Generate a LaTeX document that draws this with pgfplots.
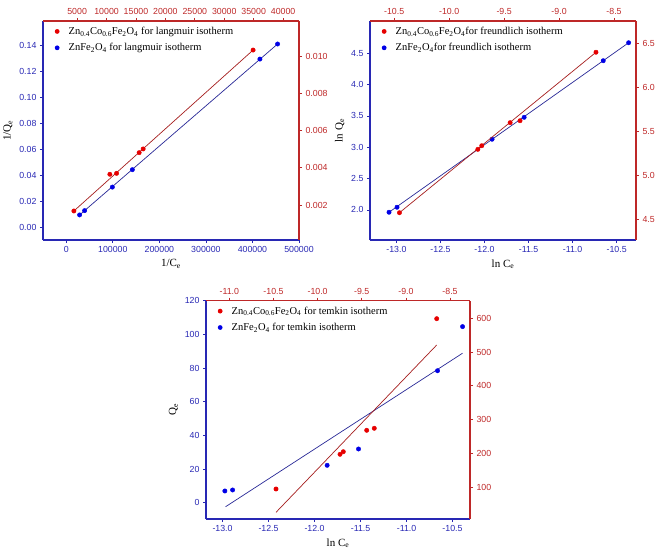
\documentclass[border=0pt]{standalone}
\usepackage{pgfplots}
\pgfplotsset{compat=1.18}
\usepackage{fontspec}
\setmainfont{Liberation Serif}
\newfontfamily\tickfont{Liberation Sans}
\definecolor{axblue}{RGB}{40,40,180}
\definecolor{axred}{RGB}{190,40,40}
\definecolor{ptblue}{RGB}{0,0,230}
\definecolor{ptred}{RGB}{230,0,0}
\definecolor{lnblue}{RGB}{40,40,150}
\definecolor{lnred}{RGB}{165,30,30}
\pgfplotsset{
  base/.style={scale only axis, /pgf/number format/assume math mode=true,
    /pgf/number format/fixed,
    tick align=outside, major tick length=3pt, scaled ticks=false,
    /pgf/number format/1000 sep={}, minor tick num=0,
    ticklabel style={font=\tickfont\fontsize{8.8}{10}\selectfont},
    label style={font=\fontsize{11}{13}\selectfont}},
  blueax/.style={base, axis x line*=bottom, axis y line*=left, tick pos=left,
    axis line style={axblue,-, line width=1.1pt}, tick style={axblue, line width=0.8pt},
    ticklabel style={text=axblue}},
  redax/.style={base, axis x line*=top, axis y line*=right, tick pos=right,
    axis line style={axred,-, line width=1.1pt}, tick style={axred, line width=0.8pt},
    ticklabel style={text=axred},
    legend style={draw=none, fill=none, at={(0.0,0.985)}, anchor=north west,
      font=\fontsize{10.5}{12}\selectfont, row sep=6.5pt, inner sep=2pt,
      nodes={inner xsep=3pt, inner ysep=0.5pt}}, legend cell align=left,
    legend image code/.code={\path[draw=none, fill=none] (0cm,-0.1cm) rectangle (0.72cm,0.1cm); \fill[##1, draw=none] (0.42cm,0cm) circle (2.4pt);}},
  bpts/.style={only marks, mark=*, mark size=2.2pt, color=ptblue},
  rpts/.style={only marks, mark=*, mark size=2.2pt, color=ptred},
  bln/.style={lnblue, line width=0.7pt, no marks, forget plot},
  rln/.style={lnred, line width=0.7pt, no marks, forget plot},
}
\begin{document}
\begin{tikzpicture}
\path[use as bounding box] (0,0) rectangle (661pt,558pt);
% ---------------- Panel 1: Langmuir
\begin{axis}[blueax, at={(43pt,318pt)}, anchor=south west, width=256pt, height=219pt,
  xmin=-50000, xmax=500000, ymin=-0.0095, ymax=0.159,
  xtick={0,100000,200000,300000,400000,500000},
  ytick={0,0.02,0.04,0.06,0.08,0.10,0.12,0.14},
  yticklabel style={/pgf/number format/.cd, fixed, fixed zerofill, precision=2},
  xlabel={1/C\textsubscript{e}}, ylabel={1/Q\textsubscript{e}}]
\addplot[bln] coordinates {(28600,0.0098) (454000,0.1413)};
\addplot[bpts] coordinates {(28600,0.0098) (39400,0.0131) (99000,0.0312) (142000,0.0446) (416000,0.1297) (454000,0.1413)};
\end{axis}
\begin{axis}[redax, at={(43pt,318pt)}, anchor=south west, width=256pt, height=219pt,
  xmin=-800, xmax=42700, ymin=0.000121, ymax=0.01188,
  xtick={5000,10000,15000,20000,25000,30000,35000,40000},
  ytick={0.002,0.004,0.006,0.008,0.010},
  yticklabel style={/pgf/number format/.cd, fixed, fixed zerofill, precision=3}]
\addplot[rln] coordinates {(4450,0.00168) (34900,0.01032)};
\addplot[rpts] coordinates {(4450,0.00168) (10560,0.00365) (11700,0.0037) (15540,0.00481) (16220,0.00501) (34900,0.01032)};
\addlegendentry{Zn\textsubscript{0.4}Co\textsubscript{0.6}Fe\textsubscript{2}O\textsubscript{4} for langmuir isotherm}
\addlegendimage{bpts}
\addlegendentry{ZnFe\textsubscript{2}O\textsubscript{4} for langmuir isotherm}
\end{axis}
% ---------------- Panel 2: Freundlich
\begin{axis}[blueax, at={(370pt,318pt)}, anchor=south west, width=266pt, height=219pt,
  xmin=-13.30, xmax=-10.28, ymin=1.52, ymax=5.015,
  xtick={-13,-12.5,-12,-11.5,-11,-10.5},
  ytick={2,2.5,3,3.5,4,4.5},
  xticklabel style={/pgf/number format/.cd, fixed, fixed zerofill, precision=1},
  yticklabel style={/pgf/number format/.cd, fixed, fixed zerofill, precision=1},
  xlabel={ln C\textsubscript{e}}, ylabel={ln Q\textsubscript{e}}]
\addplot[bln] coordinates {(-13.084,1.963) (-10.364,4.668)};
\addplot[bpts] coordinates {(-13.084,1.963) (-12.993,2.043) (-11.914,3.128) (-11.55,3.478) (-10.652,4.381) (-10.364,4.668)};
\end{axis}
\begin{axis}[redax, at={(370pt,318pt)}, anchor=south west, width=266pt, height=219pt,
  xmin=-10.72, xmax=-8.30, ymin=4.265, ymax=6.753,
  xtick={-10.5,-10,-9.5,-9,-8.5},
  ytick={4.5,5,5.5,6,6.5},
  xticklabel style={/pgf/number format/.cd, fixed, fixed zerofill, precision=1},
  yticklabel style={/pgf/number format/.cd, fixed, fixed zerofill, precision=1}]
\addplot[rln] coordinates {(-10.452,4.575) (-8.664,6.398)};
\addplot[rpts] coordinates {(-10.452,4.575) (-9.739,5.295) (-9.703,5.336) (-9.445,5.598) (-9.355,5.62) (-8.664,6.398)};
\addlegendentry{Zn\textsubscript{0.4}Co\textsubscript{0.6}Fe\textsubscript{2}O\textsubscript{4}for freundlich isotherm}
\addlegendimage{bpts}
\addlegendentry{ZnFe\textsubscript{2}O\textsubscript{4}for freundlich isotherm}
\end{axis}
% ---------------- Panel 3: Temkin
\begin{axis}[blueax, at={(206pt,39pt)}, anchor=south west, width=264pt, height=218.3pt,
  xmin=-13.18, xmax=-10.31, ymin=-9.7, ymax=120,
  xtick={-13,-12.5,-12,-11.5,-11,-10.5},
  ytick={0,20,40,60,80,100,120},
  xticklabel style={/pgf/number format/.cd, fixed, fixed zerofill, precision=1},
  xlabel={ln C\textsubscript{e}}, ylabel={Q\textsubscript{e}}]
\addplot[bln] coordinates {(-12.967,-2.4) (-10.391,88.8)};
\addplot[bpts] coordinates {(-12.975,6.95) (-12.891,7.55) (-11.863,22.2) (-11.522,31.9) (-10.663,78.4) (-10.391,104.6)};
\end{axis}
\begin{axis}[redax, at={(206pt,39pt)}, anchor=south west, width=264pt, height=218.3pt,
  xmin=-11.264, xmax=-8.274, ymin=6.2, ymax=652,
  xtick={-11,-10.5,-10,-9.5,-9,-8.5},
  ytick={100,200,300,400,500,600},
  xticklabel style={/pgf/number format/.cd, fixed, fixed zerofill, precision=1}]
\addplot[rln] coordinates {(-10.471,26) (-8.651,521)};
\addplot[rpts] coordinates {(-10.471,95) (-9.746,197.6) (-9.709,205.3) (-9.444,268.6) (-9.358,274.6) (-8.651,598.8)};
\addlegendentry{Zn\textsubscript{0.4}Co\textsubscript{0.6}Fe\textsubscript{2}O\textsubscript{4} for temkin isotherm}
\addlegendimage{bpts}
\addlegendentry{ZnFe\textsubscript{2}O\textsubscript{4} for temkin isotherm}
\end{axis}
\end{tikzpicture}
\end{document}
